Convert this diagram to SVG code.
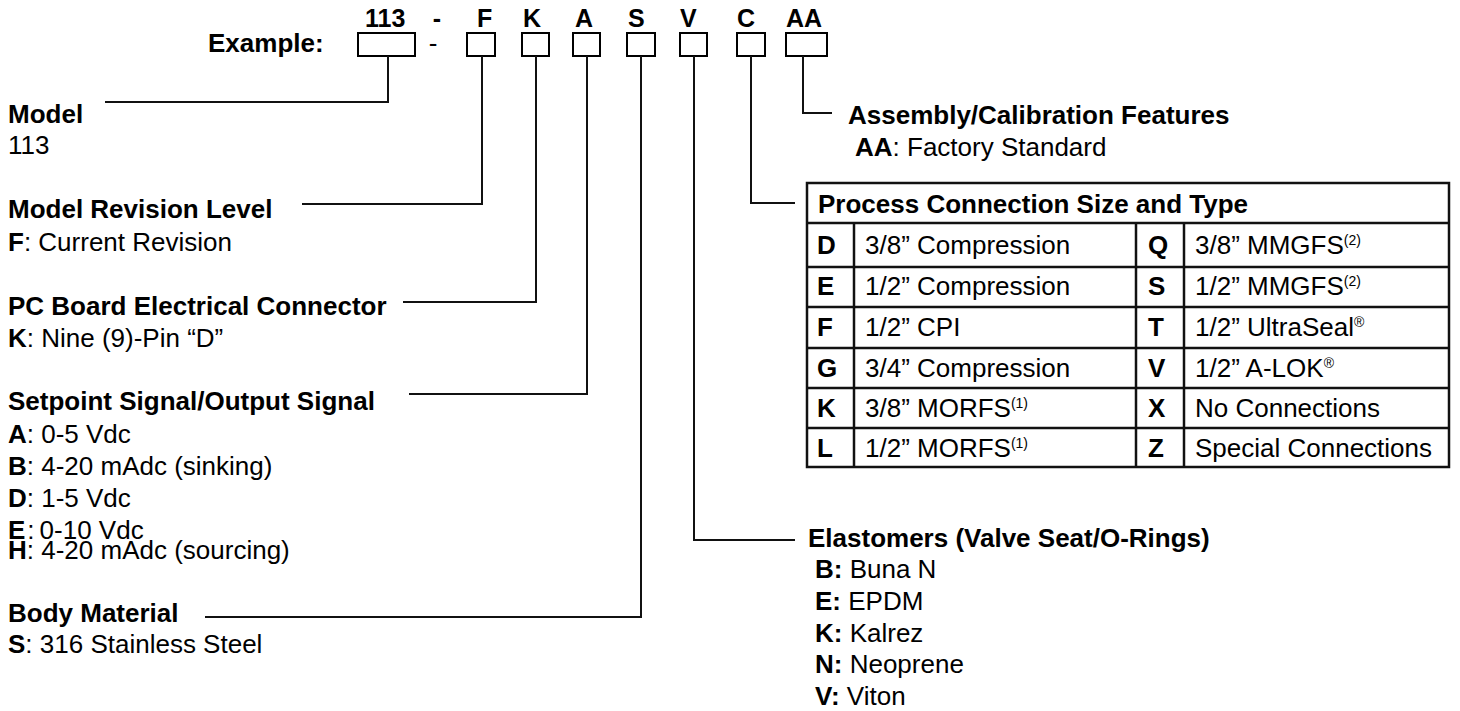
<svg xmlns="http://www.w3.org/2000/svg" width="1460" height="711" viewBox="0 0 1460 711">
<style>
text{font-family:"Liberation Sans",Arial,Helvetica,sans-serif;fill:#000;font-size:26px}
.b{font-weight:bold}
.h{font-weight:bold;font-size:25px}
.sup{font-size:14px}
.box{fill:none;stroke:#000;stroke-width:2}
.ln{fill:none;stroke:#111;stroke-width:2}
.tb{fill:none;stroke:#111;stroke-width:2.5}
</style>
<rect width="1460" height="711" fill="#fff"/>
<g id="code-header">
<text class="h" x="365" y="27">113</text>
<text class="h" x="437" y="27" text-anchor="middle">-</text>
<text class="h" x="477" y="27">F</text>
<text class="h" x="523" y="27">K</text>
<text class="h" x="575" y="27">A</text>
<text class="h" x="628" y="27">S</text>
<text class="h" x="680" y="27">V</text>
<text class="h" x="737" y="27">C</text>
<text class="h" x="786" y="27">AA</text>
<text class="b" x="208" y="52">Example:</text>
<text x="433" y="52" text-anchor="middle">-</text>
</g>
<g id="boxes">
<rect id="box-113" class="box" x="358" y="33" width="57" height="23"/>
<rect id="box-F" class="box" x="467" y="33" width="28" height="23"/>
<rect id="box-K" class="box" x="522" y="33" width="27" height="23"/>
<rect id="box-A" class="box" x="573" y="33" width="27" height="23"/>
<rect id="box-S" class="box" x="627" y="33" width="28" height="23"/>
<rect id="box-V" class="box" x="680" y="33" width="27" height="23"/>
<rect id="box-C" class="box" x="737" y="33" width="28" height="23"/>
<rect id="box-AA" class="box" x="786" y="33" width="41" height="23"/>
</g>
<g id="connectors">
<polyline class="ln" points="388,56 388,102 105,102"/>
<polyline class="ln" points="482,56 482,204 302,204"/>
<polyline class="ln" points="536,56 536,302 403,302"/>
<polyline class="ln" points="587,56 587,394 409,394"/>
<polyline class="ln" points="641,56 641,617 205,617"/>
<polyline class="ln" points="694,56 694,540 795,540"/>
<polyline class="ln" points="751,56 751,203 795,203"/>
<polyline class="ln" points="803,56 803,113 832,113"/>
</g>
<g id="model">
<text class="b" x="8" y="123">Model</text>
<text x="8" y="154">113</text>
</g>
<g id="model-revision">
<text class="b" x="8" y="218">Model Revision Level</text>
<text x="8" y="251"><tspan class="b">F</tspan>: Current Revision</text>
</g>
<g id="pc-board">
<text class="b" x="8" y="315">PC Board Electrical Connector</text>
<text x="8" y="347"><tspan class="b">K</tspan>: Nine (9)-Pin “D”</text>
</g>
<g id="setpoint">
<text class="b" x="8" y="410">Setpoint Signal/Output Signal</text>
<text x="8" y="443"><tspan class="b">A</tspan>: 0-5 Vdc</text>
<text x="8" y="475"><tspan class="b">B</tspan>: 4-20 mAdc (sinking)</text>
<text x="8" y="507"><tspan class="b">D</tspan>: 1-5 Vdc</text>
<text x="8" y="539"><tspan class="b">E</tspan><tspan dx="2">:</tspan><tspan dx="5">0-10 Vdc</tspan></text>
<text x="8" y="559"><tspan class="b">H</tspan>: 4-20 mAdc (sourcing)</text>
</g>
<g id="body-material">
<text class="b" x="8" y="622">Body Material</text>
<text x="8" y="653"><tspan class="b">S</tspan>: 316 Stainless Steel</text>
</g>
<g id="assembly">
<text class="b" x="848" y="124">Assembly/Calibration Features</text>
<text x="855" y="156"><tspan class="b">AA</tspan>: Factory Standard</text>
</g>
<g id="process-connection">
<rect class="tb" x="807" y="183" width="642" height="284"/>
<g class="tb">
<line x1="807" y1="223" x2="1449" y2="223"/>
<line x1="807" y1="267" x2="1449" y2="267"/>
<line x1="807" y1="307" x2="1449" y2="307"/>
<line x1="807" y1="348" x2="1449" y2="348"/>
<line x1="807" y1="388" x2="1449" y2="388"/>
<line x1="807" y1="428" x2="1449" y2="428"/>
<line x1="854" y1="223" x2="854" y2="467"/>
<line x1="1136" y1="223" x2="1136" y2="467"/>
<line x1="1184" y1="223" x2="1184" y2="467"/>
</g>
<text class="b" x="818" y="213">Process Connection Size and Type</text>
<text class="b" x="817" y="254">D</text><text x="865" y="254">3/8” Compression</text>
<text class="b" x="1148" y="254">Q</text><text x="1195" y="254">3/8” MMGFS<tspan class="sup" dy="-9">(2)</tspan></text>
<text class="b" x="817" y="295">E</text><text x="865" y="295">1/2” Compression</text>
<text class="b" x="1148" y="295">S</text><text x="1195" y="295">1/2” MMGFS<tspan class="sup" dy="-9">(2)</tspan></text>
<text class="b" x="817" y="336">F</text><text x="865" y="336">1/2” CPI</text>
<text class="b" x="1148" y="336">T</text><text x="1195" y="336">1/2” UltraSeal<tspan class="sup" dy="-9">®</tspan></text>
<text class="b" x="817" y="377">G</text><text x="865" y="377">3/4” Compression</text>
<text class="b" x="1148" y="377">V</text><text x="1195" y="377">1/2” A-LOK<tspan class="sup" dy="-9">®</tspan></text>
<text class="b" x="817" y="417">K</text><text x="865" y="417">3/8” MORFS<tspan class="sup" dy="-9">(1)</tspan></text>
<text class="b" x="1148" y="417">X</text><text x="1195" y="417">No Connections</text>
<text class="b" x="817" y="457">L</text><text x="865" y="457">1/2” MORFS<tspan class="sup" dy="-9">(1)</tspan></text>
<text class="b" x="1148" y="457">Z</text><text x="1195" y="457">Special Connections</text>
</g>
<g id="elastomers">
<text class="b" x="808" y="547">Elastomers (Valve Seat/O-Rings)</text>
<text x="815" y="578"><tspan class="b">B:</tspan> Buna N</text>
<text x="815" y="610"><tspan class="b">E:</tspan> EPDM</text>
<text x="815" y="642"><tspan class="b">K:</tspan> Kalrez</text>
<text x="815" y="673"><tspan class="b">N:</tspan> Neoprene</text>
<text x="815" y="705"><tspan class="b">V:</tspan> Viton</text>
</g>
</svg>
